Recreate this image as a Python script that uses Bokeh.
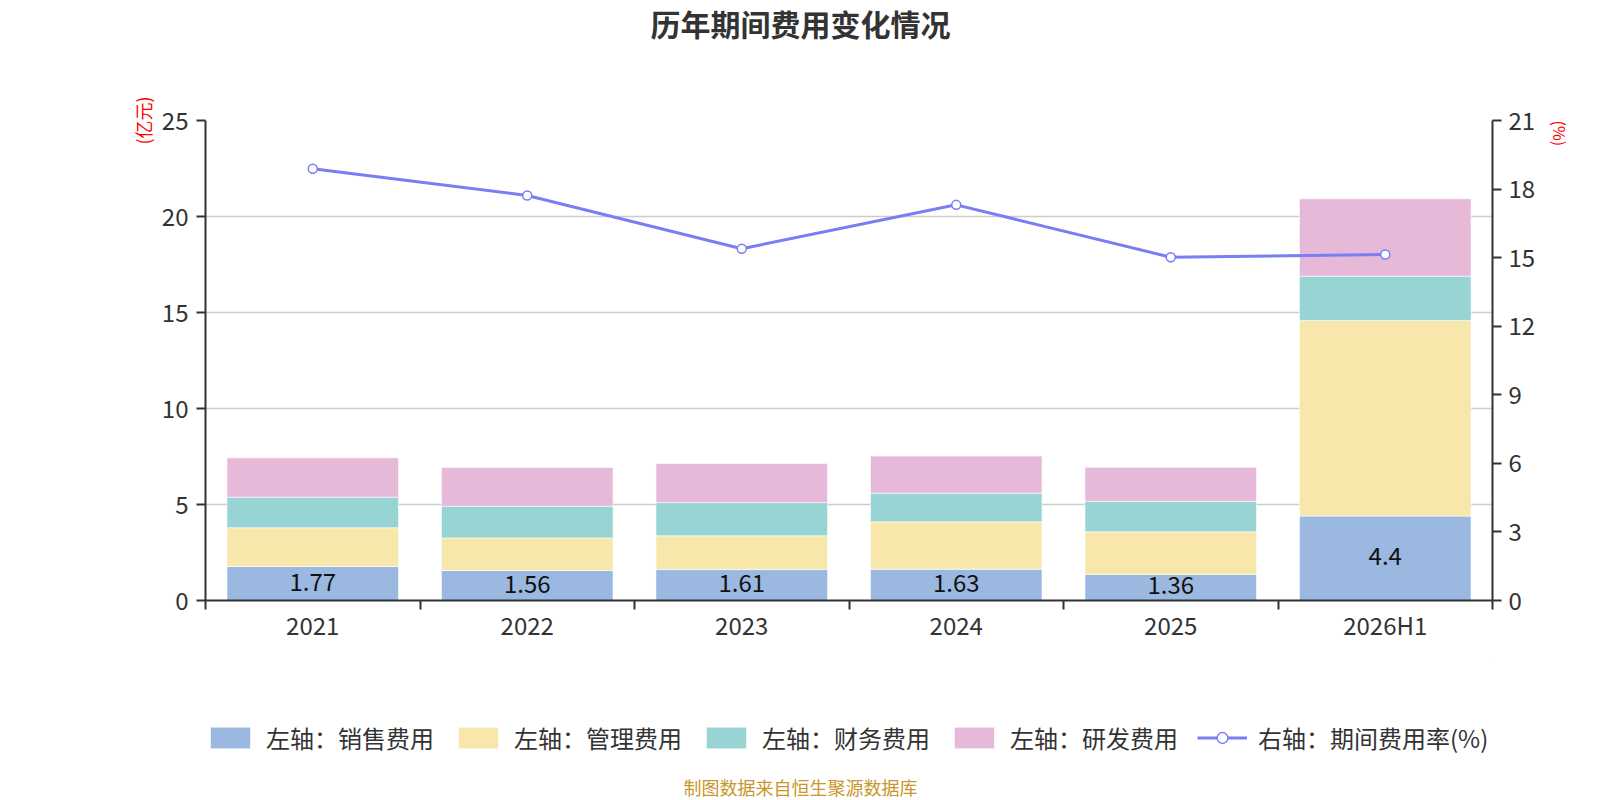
import numpy as np
from bokeh.plotting import figure
from bokeh.layouts import column
from bokeh.models import (Range1d, LinearAxis, FixedTicker, Legend, LegendItem,
                          Label, ColumnDataSource)
from bokeh.embed import file_html
from bokeh.resources import INLINE

# ---------------- data ----------------
categories = ["2021", "2022", "2023", "2024", "2025", "2026H1"]
sales = [1.77, 1.56, 1.61, 1.63, 1.36, 4.4]       # 销售费用 (亿元)
admin = [2.02, 1.70, 1.76, 2.47, 2.22, 10.18]     # 管理费用
finance = [1.59, 1.65, 1.73, 1.49, 1.58, 2.31]    # 财务费用
rnd = [2.05, 2.02, 2.04, 1.93, 1.78, 4.03]        # 研发费用
rate = [18.89, 17.72, 15.39, 17.31, 15.02, 15.14] # 期间费用率 (%)
left_ticks = [0, 5, 10, 15, 20, 25]
right_ticks = [0, 3, 6, 9, 12, 15, 18, 21]

series_names = ["左轴：销售费用", "左轴：管理费用", "左轴：财务费用", "左轴：研发费用"]
line_name = "右轴：期间费用率(%)"
title_text = "历年期间费用变化情况"
footer_text = "制图数据来自恒生聚源数据库"
left_unit = "(亿元)"
right_unit = "(%)"
colors = ["#9bb8e1", "#f8e7aa", "#98d4d4", "#e7b9d8"]
line_color = "#7a7ef4"
FONT = "Noto Sans CJK SC"
W = 1600
FRAME_LEFT = 205

n = len(categories)
centers = np.arange(n) + 0.5
stack = np.array([sales, admin, finance, rnd])
tops = np.cumsum(stack, axis=0)
bottoms = tops - stack


def blank_fig(h, xr=(0, 1), yr=(0, 1)):
    f = figure(width=W, height=h, x_range=Range1d(*xr), y_range=Range1d(*yr),
               output_backend="svg", toolbar_location=None, title=None,
               x_axis_location=None, y_axis_location=None, min_border=0)
    f.outline_line_color = None
    f.grid.visible = False
    f.background_fill_color = "white"
    f.border_fill_color = "white"
    return f


# ---------------- title strip ----------------
ft = blank_fig(60)
ft.add_layout(Label(x=800 - FRAME_LEFT, y=38, x_units="screen", y_units="screen",
                    text=title_text, text_align="center", text_baseline="middle",
                    text_font_size="30px", text_font_style="bold", text_color="#333333",
                    text_font=FONT))

# ---------------- main chart ----------------
p = figure(width=W, height=600, x_range=Range1d(0, n), y_range=Range1d(0, 25),
           output_backend="svg", toolbar_location=None, title=None,
           min_border_left=FRAME_LEFT, min_border_right=108, min_border_top=60,
           min_border_bottom=60)
p.outline_line_color = None
p.background_fill_color = "white"
p.border_fill_color = "white"
p.extra_y_ranges = {"r": Range1d(0, 21)}

for i in range(4):
    src = ColumnDataSource(dict(x=centers, top=tops[i], bottom=bottoms[i]))
    p.vbar(x="x", top="top", bottom="bottom", width=0.8, source=src,
           fill_color=colors[i], line_color="white", line_width=1, line_alpha=0.6)

lsrc = ColumnDataSource(dict(x=centers, y=np.array(sales) / 2.0,
                             t=[f"{v:g}" for v in sales]))
p.text(x="x", y="y", text="t", source=lsrc, text_align="center", text_baseline="middle",
       text_font_size="24px", text_color="#111111", text_font={"value": FONT}, y_offset=-2)

p.line(x=centers, y=rate, y_range_name="r", line_color=line_color, line_width=3)
p.scatter(x=centers, y=rate, y_range_name="r", size=9, marker="circle",
          fill_color="white", line_color=line_color, line_width=1.5)

xa = p.xaxis[0]
xa.ticker = FixedTicker(ticks=list(centers), minor_ticks=list(range(n + 1)))
xa.major_label_overrides = {float(c): cat for c, cat in zip(centers, categories)}
xa.major_tick_out = 0
xa.major_tick_in = 0
xa.minor_tick_out = 9
xa.minor_tick_in = 0
xa.minor_tick_line_color = "#333333"
xa.minor_tick_line_width = 2
xa.axis_line_color = "#333333"
xa.axis_line_width = 2
xa.major_label_standoff = -3
xa.major_label_text_font_size = "24px"
xa.major_label_text_color = "#333333"
xa.major_label_text_font = FONT

ya = p.yaxis[0]
ya.ticker = FixedTicker(ticks=left_ticks)
ya.major_tick_out = 9
ya.major_tick_in = 0
ya.minor_tick_out = 0
ya.minor_tick_in = 0
ya.major_tick_line_color = "#333333"
ya.major_tick_line_width = 2
ya.axis_line_color = "#333333"
ya.axis_line_width = 2
ya.major_label_standoff = 8
ya.major_label_text_font_size = "24px"
ya.major_label_text_color = "#333333"
ya.major_label_text_font = FONT
ya.axis_label = left_unit
ya.axis_label_align = "end"
ya.axis_label_standoff = 3
ya.axis_label_text_font_size = "18px"
ya.axis_label_text_font_style = "normal"
ya.axis_label_text_color = "#ff0000"
ya.axis_label_text_font = FONT

ra = LinearAxis(y_range_name="r", ticker=FixedTicker(ticks=right_ticks))
ra.major_tick_out = 9
ra.major_tick_in = 0
ra.minor_tick_out = 0
ra.minor_tick_in = 0
ra.major_tick_line_color = "#333333"
ra.major_tick_line_width = 2
ra.axis_line_color = "#333333"
ra.axis_line_width = 2
ra.major_label_standoff = 7
ra.major_label_text_font_size = "24px"
ra.major_label_text_color = "#333333"
ra.major_label_text_font = FONT
ra.axis_label = right_unit
ra.axis_label_orientation = -1.5707963267948966
ra.axis_label_align = "end"
ra.axis_label_standoff = 22
ra.axis_label_text_font_size = "16px"
ra.axis_label_text_font_style = "normal"
ra.axis_label_text_color = "#ff0000"
ra.axis_label_text_font = FONT
p.add_layout(ra, "right")

p.xgrid.visible = False
p.ygrid.ticker = FixedTicker(ticks=left_ticks)
p.ygrid.grid_line_color = "#cccccc"
p.ygrid.grid_line_width = 1.5

# ---------------- legend + footer strip ----------------
# the strip's ranges lie away from all data, so its proxy glyphs only show in the legend
fb = blank_fig(140, xr=(-100, -99), yr=(-200, -199))
leg_bars = []
for i in range(4):
    src = ColumnDataSource(dict(x=centers, top=tops[i], bottom=bottoms[i]))
    leg_bars.append(fb.vbar(x="x", top="top", bottom="bottom", width=0.8, source=src,
                            fill_color=colors[i], line_color="white", line_width=1,
                            line_alpha=0.6))
leg_line = fb.line(x=centers, y=rate, line_color=line_color, line_width=3)
leg_pt = fb.scatter(x=centers, y=rate, size=9, marker="circle", fill_color="white",
                    line_color=line_color, line_width=1.5)
items = [LegendItem(label=series_names[i], renderers=[leg_bars[i]]) for i in range(4)]
items.append(LegendItem(label=line_name, renderers=[leg_line, leg_pt]))
legend = Legend(items=items, orientation="horizontal", location=(0, 45),
                glyph_width=50, glyph_height=27, label_height=27, label_standoff=11,
                spacing=19, padding=0, margin=0, border_line_color=None,
                background_fill_alpha=0,
                label_text_font_size="24px", label_text_color="#333333",
                label_text_font=FONT)
fb.add_layout(legend)
fb.add_layout(Label(x=800 - FRAME_LEFT, y=14, x_units="screen", y_units="screen",
                    text=footer_text, text_align="center", text_baseline="middle",
                    text_font_size="18px", text_color="#c8962d", text_font=FONT))

layout = column(ft, p, fb, spacing=0)
open("out.html", "w").write(file_html(layout, INLINE))
